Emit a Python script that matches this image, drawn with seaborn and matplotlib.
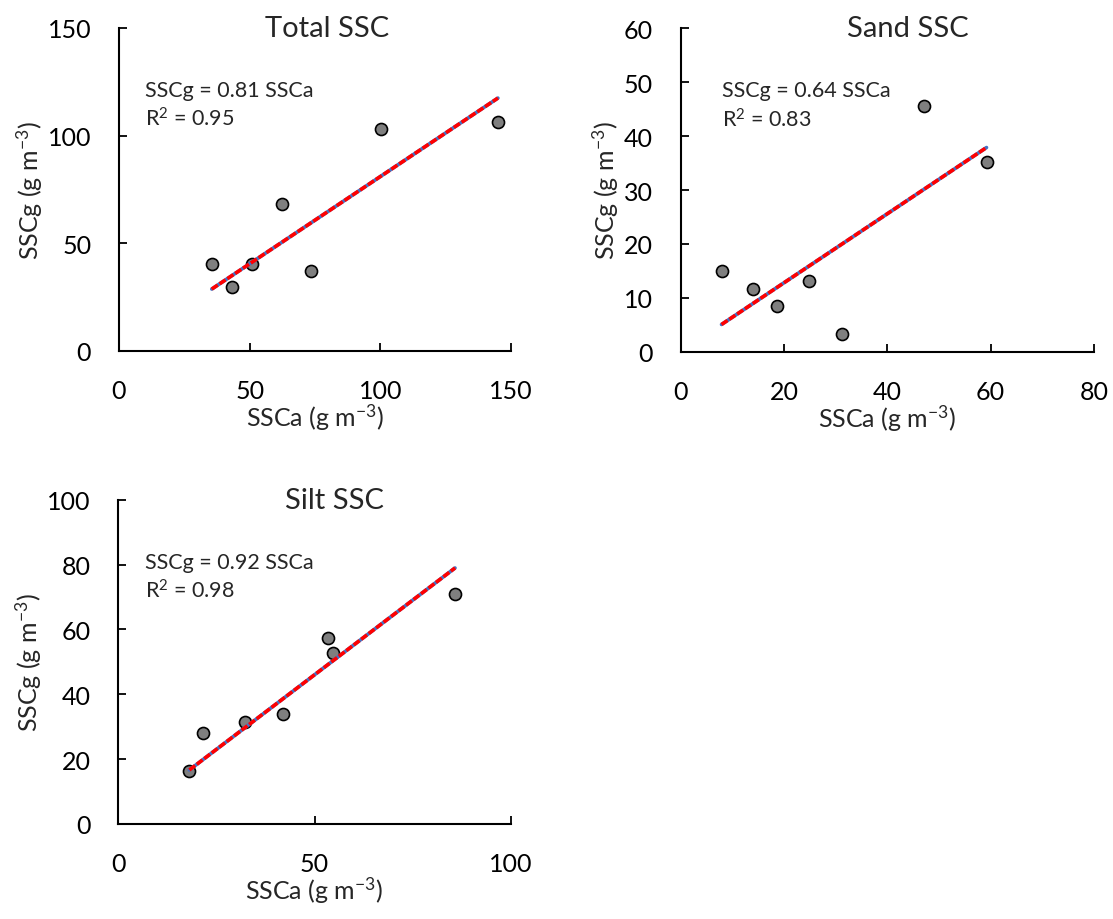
import numpy as np
import pandas as pd
import matplotlib.pyplot as plt
import seaborn as sns

# Values
total_ssca = [35.5, 43.1, 50.8, 62.2, 73.3, 100.4, 145.0]
total_sscg = [40.4, 29.7, 40.4, 68.3, 37.2, 103.1, 106.4]
total_slope, total_r2 = 0.81, 0.95

sand_ssca = [7.9, 14.0, 18.6, 24.9, 31.3, 47.1, 59.2]
sand_sscg = [14.9, 11.6, 8.5, 13.1, 3.2, 45.5, 35.2]
sand_slope, sand_r2 = 0.64, 0.83

silt_ssca = [18.1, 21.7, 32.4, 41.9, 53.5, 54.6, 85.8]
silt_sscg = [16.3, 28.1, 31.5, 33.9, 57.3, 52.8, 70.8]
silt_slope, silt_r2 = 0.92, 0.98

sns.set_style('ticks')
plt.rcParams['font.family'] = ['Lato', 'DejaVu Sans']
plt.rcParams['mathtext.default'] = 'regular'


def panel(ax, x, y, slope, r2, title, xmax, xstep, ymax, ystep, title_x, text_x):
    df = pd.DataFrame({'SSCa': x, 'SSCg': y})
    sns.scatterplot(data=df, x='SSCa', y='SSCg', ax=ax, s=75, color='#7f7f7f',
                    edgecolor='black', linewidth=1.2, zorder=3)
    # fitted line through the origin, over the range of the data
    xs = np.array([min(x), max(x)])
    ax.plot(xs, slope * xs, color='#4472c4', lw=2.6, zorder=4)
    ax.plot(xs, slope * xs, color='#ff0000', lw=2.6, ls=(0, (2, 0.6)), zorder=5)

    ax.set_xlim(0, xmax)
    ax.set_ylim(0, ymax)
    ax.set_xticks(np.arange(0, xmax + 1, xstep))
    ax.set_yticks(np.arange(0, ymax + 1, ystep))
    ax.tick_params(direction='in', length=6, width=1.3, labelsize=18, pad=20,
                   colors='black')
    for s in ['left', 'bottom']:
        ax.spines[s].set_linewidth(1.5)
        ax.spines[s].set_color('black')
    sns.despine(ax=ax)

    ax.set_xlabel('SSCa (g m$^{-3}$)', fontsize=18, labelpad=0)
    ax.set_ylabel('SSCg (g m$^{-3}$)', fontsize=18, labelpad=2)
    ax.text(title_x, 1.0, title, transform=ax.transAxes, ha='center', va='center',
            fontsize=21)
    ax.text(text_x, 0.84, f'SSCg = {slope:.2f} SSCa\nR$^{{2}}$ = {r2:.2f}',
            transform=ax.transAxes, ha='left', va='top', fontsize=15.5,
            linespacing=1.35)


fig = plt.figure(figsize=(11.13, 9.2), dpi=100)
ax1 = fig.add_axes([0.1069, 0.6174, 0.3522, 0.3511])
ax2 = fig.add_axes([0.6116, 0.6166, 0.3713, 0.3515])
ax3 = fig.add_axes([0.1063, 0.1033, 0.3526, 0.3525])

panel(ax1, total_ssca, total_sscg, total_slope, total_r2, 'Total SSC', 150, 50, 150, 50, 0.53, 0.066)
panel(ax2, sand_ssca, sand_sscg, sand_slope, sand_r2, 'Sand SSC', 80, 20, 60, 10, 0.55, 0.099)
panel(ax3, silt_ssca, silt_sscg, silt_slope, silt_r2, 'Silt SSC', 100, 50, 100, 20, 0.55, 0.068)

fig.savefig('out.png', dpi=100)
